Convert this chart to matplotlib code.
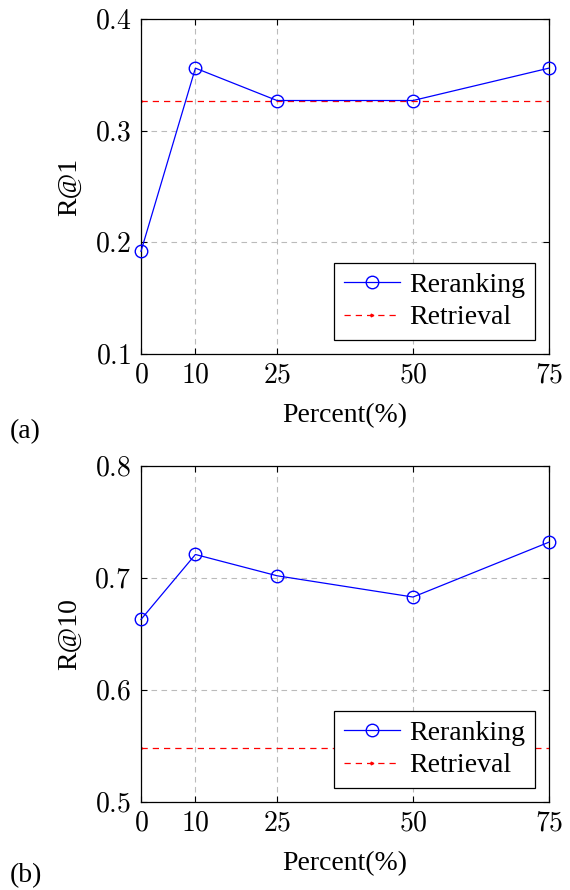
import matplotlib
matplotlib.use("Agg")
import matplotlib.pyplot as plt

plt.rcParams['font.family'] = ['Liberation Serif', 'DejaVu Serif']
plt.rcParams['mathtext.fontset'] = 'cm'

percent = [0, 10, 25, 50, 75]
r1_rerank = [0.192, 0.356, 0.327, 0.327, 0.356]
r1_retrieval = 0.327
r10_rerank = [0.663, 0.721, 0.702, 0.683, 0.732]
r10_retrieval = 0.548
r1_ticks = [0.1, 0.2, 0.3, 0.4]
r10_ticks = [0.5, 0.6, 0.7, 0.8]

W, H = 570, 890
fig = plt.figure(figsize=(W / 100, H / 100), dpi=100)

def make_ax(left, right, top, bottom):
    return fig.add_axes([left / W, 1 - bottom / H, (right - left) / W, (bottom - top) / H])

panels = [
    (make_ax(141, 549, 19, 354), r1_rerank, r1_retrieval, r1_ticks, 'R@1', '(a)', 432),
    (make_ax(141, 549, 466, 802), r10_rerank, r10_retrieval, r10_ticks, 'R@10', '(b)', 876),
]

for ax, rer, ret, yt, ylab, tag, tag_y in panels:
    ax.plot(percent, rer, color='blue', lw=0.9, marker='o', ms=9, mfc='none',
            mew=1.0, label='Reranking', zorder=3, clip_on=False)
    ax.plot([percent[0], percent[-1]], [ret, ret], color='red', lw=0.9,
            ls=(0, (5, 4)), marker='>', ms=2, markevery=[0], label='Retrieval', zorder=2)
    ax.set_xlim(percent[0], percent[-1])
    ax.set_ylim(yt[0], yt[-1])
    ax.set_xticks(percent)
    ax.set_xticklabels([f'${p}$' for p in percent])
    ax.set_yticks(yt)
    ax.set_yticklabels([f'${v:.1f}$' for v in yt])
    ax.tick_params(labelsize=20, direction='in', length=4, width=0.8, pad=7,
                   top=True, right=True)
    ax.grid(True, color='#bbbbbb', ls=(0, (5, 4)), lw=0.8)
    for s in ax.spines.values():
        s.set_linewidth(0.9)
    ax.set_xlabel('Percent(%)', fontsize=20, labelpad=10)
    ax.set_ylabel(ylab, fontsize=20, labelpad=9)
    leg = ax.legend(loc='lower right', fontsize=20, frameon=True, fancybox=False,
                    edgecolor='black', framealpha=1, borderpad=0.35, labelspacing=0.25,
                    handlelength=2.0, handletextpad=0.35, borderaxespad=0.5)
    leg.get_frame().set_linewidth(0.9)
    fig.text(10 / W, 1 - tag_y / H, tag, fontsize=20, va='center', ha='left')

fig.savefig('out.png', dpi=100)
